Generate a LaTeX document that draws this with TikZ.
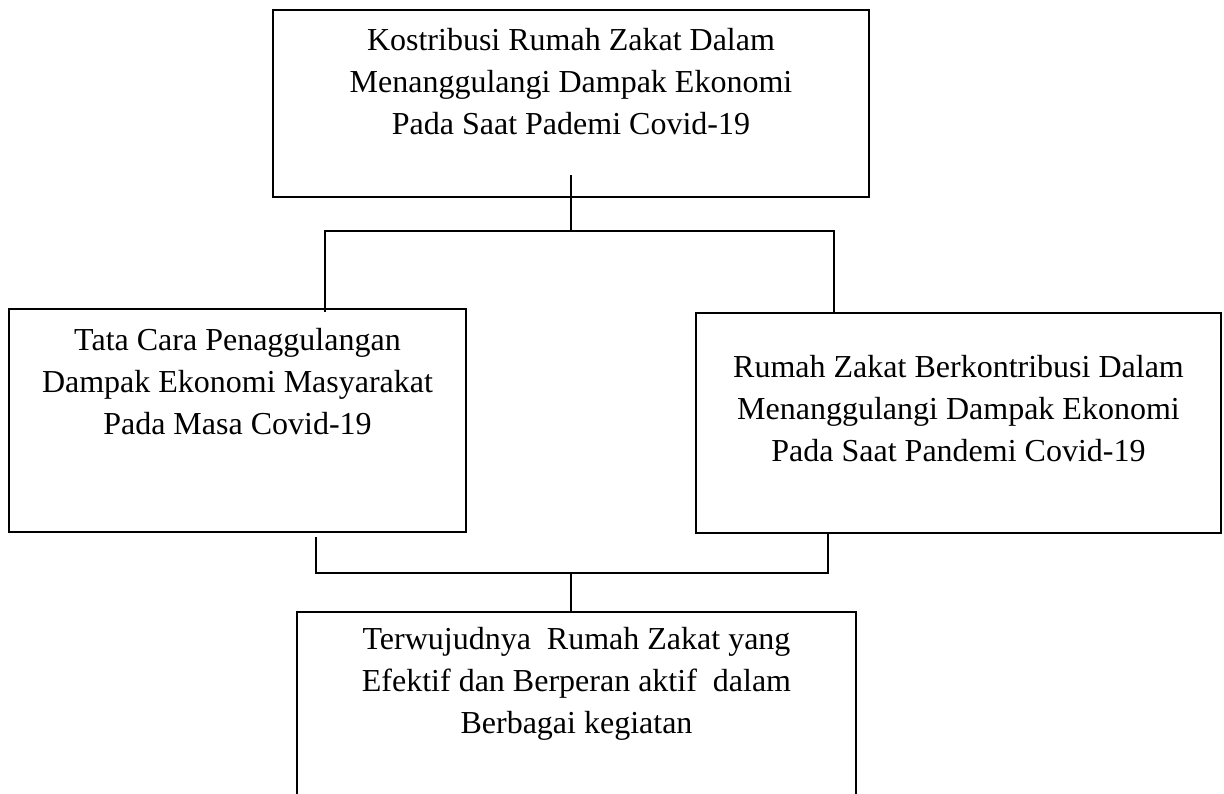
\documentclass[tikz,border=0pt]{standalone}
\usepackage{fontspec}
\setmainfont{Liberation Serif}
\usetikzlibrary{fit,calc}
\tikzset{
  box/.style={draw, line width=1.2pt, inner sep=0pt},
  txt/.style={align=center, font=\fontsize{16}{21}\selectfont, inner sep=0pt},
  conn/.style={line width=0.9pt}
}
\begin{document}
\begin{tikzpicture}[x=0.5pt,y=-0.5pt]
\useasboundingbox (0,0) rectangle (1224,793);
\clip (0,0) rectangle (1224,793);
% boxes
\node[box, fit={(273,10) (869,197)}] (top) {};
\node[box, fit={(9,309) (466,532)}] (left) {};
\node[box, fit={(696,313) (1221,533)}] (right) {};
\node[box, fit={(297,612) (856,830)}] (bottom) {};
% texts
\node[txt] (ttop) at (571,84) {\strut Kostribusi Rumah Zakat Dalam\\\strut Menanggulangi Dampak Ekonomi\\\strut Pada Saat Pademi Covid-19};
\node[txt] (tleft) at (237.5,384) {\strut Tata Cara Penaggulangan\\\strut Dampak Ekonomi Masyarakat\\\strut Pada Masa Covid-19};
\node[txt] (tright) at (958.5,411) {\strut Rumah Zakat Berkontribusi Dalam\\\strut Menanggulangi Dampak Ekonomi\\\strut Pada Saat Pandemi Covid-19};
\node[txt] (tbottom) at (576.5,683) {\strut Terwujudnya\ \ Rumah Zakat yang\\\strut Efektif dan Berperan aktif\ \ dalam\\\strut Berbagai kegiatan};
% connectors
\coordinate (ts) at ($(top.south)+(0,-23)$);
\coordinate (j1) at (571,231);
\coordinate (hl) at (325,231);
\coordinate (hr) at (834,231);
\draw[conn] (ts) -- (j1);
\draw[conn] ($(hl |- left.north)+(0,4)$) -- (hl) -- (hr) -- (hr |- right.north);
\coordinate (bl) at (316,573);
\coordinate (br) at (828,573);
\coordinate (bm) at (571,573);
\draw[conn] ($(bl |- left.south)+(0,4)$) -- (bl) -- (br) -- (br |- right.south);
\draw[conn] (bm) -- (bm |- bottom.north);
\end{tikzpicture}
\end{document}
